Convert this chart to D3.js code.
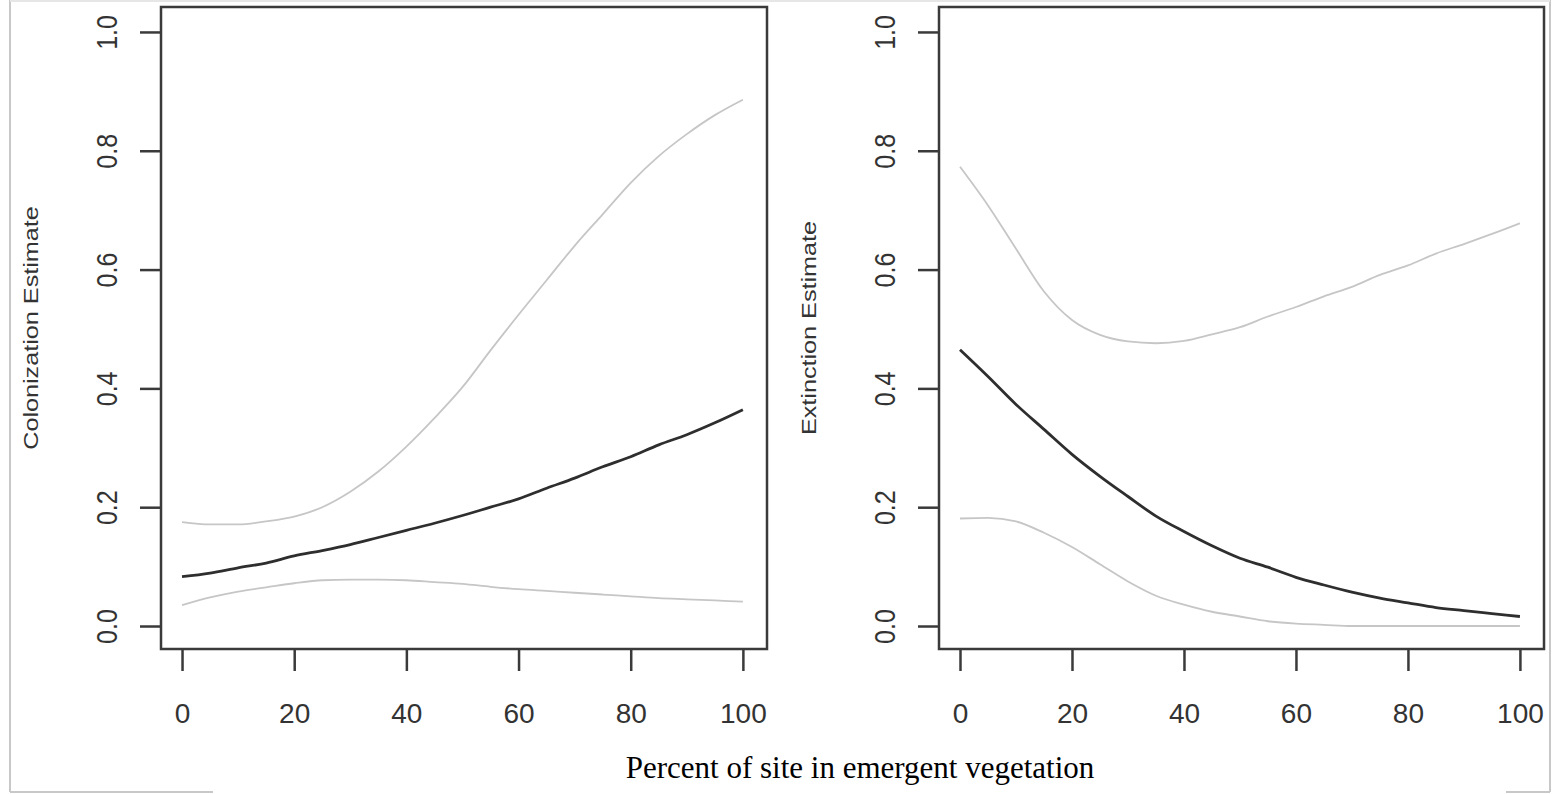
<!DOCTYPE html>
<html>
<head>
<meta charset="utf-8">
<script src="https://cdn.jsdelivr.net/npm/d3@7"></script>
<style>
  html, body { margin: 0; padding: 0; background: #fff; }
  #graph { width: 1553px; height: 794px; }
  text { font-family: "Liberation Sans", Arial, sans-serif; fill: #333; }
</style>
</head>
<body>
<div id="graph"></div>
<script>
// percent of site in emergent vegetation
let pctVeg = [0, 5, 10, 15, 20, 25, 30, 35, 40, 45, 50, 55, 60, 65, 70, 75, 80, 85, 90, 95, 100];

// colonization panel
let colUpper = [0.175, 0.171, 0.171, 0.176, 0.184, 0.200, 0.226, 0.260, 0.302, 0.350, 0.402,
  0.464, 0.524, 0.582, 0.640, 0.693, 0.746, 0.791, 0.828, 0.860, 0.886];
let colMid = [0.083, 0.089, 0.098, 0.106, 0.118, 0.127, 0.137, 0.149, 0.161, 0.173, 0.186,
  0.200, 0.214, 0.232, 0.249, 0.268, 0.285, 0.305, 0.322, 0.342, 0.364];
let colLower = [0.035, 0.048, 0.058, 0.065, 0.072, 0.077, 0.078, 0.078, 0.077, 0.074, 0.071,
  0.066, 0.062, 0.059, 0.056, 0.053, 0.050, 0.047, 0.045, 0.043, 0.041];

// extinction panel
let extUpper = [0.773, 0.708, 0.635, 0.563, 0.515, 0.490, 0.479, 0.476, 0.480, 0.491, 0.503,
  0.521, 0.537, 0.555, 0.571, 0.591, 0.607, 0.627, 0.643, 0.660, 0.678];
let extMid = [0.465, 0.420, 0.373, 0.331, 0.289, 0.252, 0.218, 0.185, 0.159, 0.135, 0.114,
  0.099, 0.082, 0.069, 0.057, 0.047, 0.039, 0.031, 0.026, 0.021, 0.016];
let extLower = [0.181, 0.182, 0.176, 0.157, 0.133, 0.104, 0.075, 0.051, 0.036, 0.024, 0.016,
  0.008, 0.004, 0.002, 0.000, 0.000, 0.000, 0.000, 0.000, 0.000, 0.000];

let xTicks = [0, 20, 40, 60, 80, 100];
let yTicks = [0, 0.2, 0.4, 0.6, 0.8, 1.0];
let panelTitles = ['Colonization Estimate', 'Extinction Estimate'];
let xTitle = 'Percent of site in emergent vegetation';

let width = 1553,
  height = 794;

let svg = d3.select('#graph').append('svg')
  .attr('width', width)
  .attr('height', height);

// picture frame (the reference is a cropped screenshot with a border)
let frame = svg.append('g').attr('stroke', '#c8c8c8').attr('stroke-width', 2);
frame.append('line').attr('x1', 10).attr('y1', 0).attr('x2', 10).attr('y2', 792);
frame.append('line').attr('x1', 10).attr('y1', 792).attr('x2', 213).attr('y2', 792);
frame.append('line').attr('x1', 1550).attr('y1', 0).attr('x2', 1550).attr('y2', 792);
frame.append('line').attr('x1', 1506).attr('y1', 792).attr('x2', 1550).attr('y2', 792);
frame.append('line').attr('x1', 10).attr('y1', 1).attr('x2', 1550).attr('y2', 1).attr('stroke', '#e6e6e6');

let panels = [
  { left: 161, right: 767, title: panelTitles[0], series: [colUpper, colMid, colLower] },
  { left: 939, right: 1544, title: panelTitles[1], series: [extUpper, extMid, extLower] }
];

let plotTop = 7,
  plotBottom = 649;

panels.forEach(function(p) {
  let x = d3.scaleLinear().domain([-3.75, 104.3]).range([p.left, p.right]);
  let y = d3.scaleLinear().domain([-0.0387, 1.042]).range([plotBottom, plotTop]);

  let g = svg.append('g');

  let line = d3.line()
    .x(function(d, i) { return x(pctVeg[i]); })
    .y(function(d) { return y(d); })
    .curve(d3.curveMonotoneX);

  // confidence bounds (grey) then estimate (dark)
  [p.series[0], p.series[2]].forEach(function(s) {
    g.append('path')
      .datum(s)
      .attr('d', line)
      .attr('fill', 'none')
      .attr('stroke', '#c6c6c6')
      .attr('stroke-width', 1.8);
  });
  g.append('path')
    .datum(p.series[1])
    .attr('d', line)
    .attr('fill', 'none')
    .attr('stroke', '#2e2e2e')
    .attr('stroke-width', 2.8);

  // box
  g.append('rect')
    .attr('x', p.left)
    .attr('y', plotTop)
    .attr('width', p.right - p.left)
    .attr('height', plotBottom - plotTop)
    .attr('fill', 'none')
    .attr('stroke', '#3a3a3a')
    .attr('stroke-width', 2.5);

  // x axis
  let xAxis = d3.axisBottom(x)
    .tickValues(xTicks)
    .tickSize(22)
    .tickPadding(32)
    .tickFormat(d3.format('d'));
  let gx = g.append('g')
    .attr('transform', 'translate(0,' + plotBottom + ')')
    .call(xAxis);
  gx.select('.domain').remove();
  gx.selectAll('line').attr('stroke', '#3a3a3a').attr('stroke-width', 2.5);
  gx.selectAll('text')
    .attr('fill', '#333')
    .style('font-size', '28px')
    .style('font-family', '"Liberation Sans", Arial, sans-serif');

  // y axis, labels rotated like base R
  let yAxis = d3.axisLeft(y)
    .tickValues(yTicks)
    .tickSize(21)
    .tickFormat(d3.format('.1f'));
  let gy = g.append('g')
    .attr('transform', 'translate(' + p.left + ',0)')
    .call(yAxis);
  gy.select('.domain').remove();
  gy.selectAll('line').attr('stroke', '#3a3a3a').attr('stroke-width', 2.5);
  gy.selectAll('text')
    .attr('x', null)
    .attr('dy', null)
    .attr('text-anchor', 'middle')
    .attr('transform', 'translate(-44,0) rotate(-90) scale(1,1.2)')
    .attr('fill', '#333')
    .style('font-size', '25px')
    .style('font-family', '"Liberation Sans", Arial, sans-serif');

  // y title
  g.append('text')
    .attr('transform', 'translate(' + (p.left - 123) + ',' + ((plotTop + plotBottom) / 2) + ') rotate(-90) scale(1.2,1)')
    .attr('text-anchor', 'middle')
    .style('font-size', '21px')
    .text(p.title);
});

svg.append('text')
  .attr('x', 860)
  .attr('y', 778)
  .attr('text-anchor', 'middle')
  .style('font-family', '"Liberation Serif", "Times New Roman", serif')
  .style('font-size', '31px')
  .style('fill', '#000')
  .text(xTitle);
</script>
</body>
</html>
